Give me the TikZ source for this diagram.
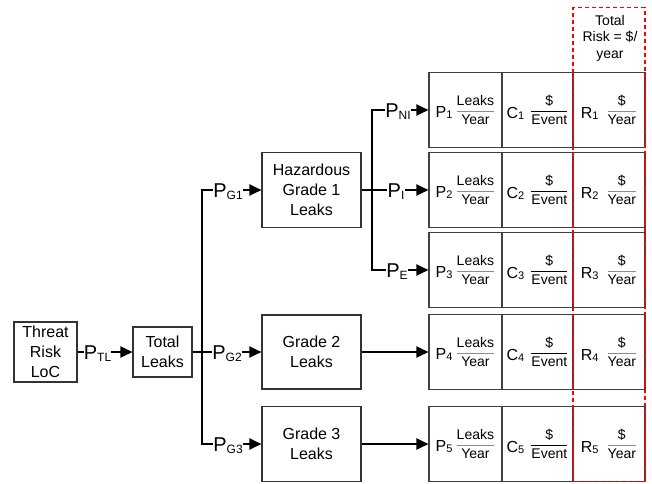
\documentclass[tikz,border=0pt]{standalone}
\usepackage{fontspec}
\setmainfont{Liberation Sans}
\usepackage{amsmath}
\usetikzlibrary{arrows.meta}
\newcommand\lsub[1]{\raisebox{-2.5pt}{\fontsize{12}{12}\selectfont #1}}
\newcommand\csub[1]{\raisebox{-1pt}{\fontsize{11}{11}\selectfont #1}}
\newcommand\frc[3]{\raisebox{3pt}{\fontsize{14}{16}\selectfont\color{#1}$\genfrac{}{}{1pt}{0}{\textcolor{black}{\text{#2}}}{\textcolor{black}{\text{#3}}}$}}
\begin{document}
\begin{tikzpicture}[x=1pt,y=-1pt,
  box/.style={draw=black!80, line width=1.1pt, align=center, inner sep=0pt, font=\fontsize{16}{20}\selectfont},
  cell/.style={draw=black!75, line width=1.1pt, inner sep=0pt, minimum height=75pt, font=\fontsize{16}{19}\selectfont},
  lab/.style={inner sep=0pt, text height=14.3pt, text depth=0pt, font=\fontsize{20}{20}\selectfont},
  conn/.style={line width=2pt},
  arr/.style={conn, -{Triangle[length=12pt,width=11pt]}},
  riskframe/.style={draw=red, line width=1.8pt, dash pattern=on 4pt off 3pt, inner sep=0pt}
]
\useasboundingbox (0,0) rectangle (652,483);

% left part
\node[box, minimum width=63pt, minimum height=60pt] (threat) at (45.5,352) {Threat\\Risk\\LoC};
\node[box, minimum width=59pt, minimum height=50pt] (total) at (162.5,352) {Total\\Leaks};
\node[lab] (lTL) at (97.5,352) {P\lsub{TL}};
\draw[conn] (threat) -- (lTL);
\draw[arr] (lTL) -- (total);

% grade boxes
\node[box, minimum width=99pt, minimum height=75pt] (haz) at (311.5,190) {Hazardous\\Grade 1\\Leaks};
\node[box, minimum width=99pt, minimum height=74pt] (g2) at (311.5,352) {Grade 2\\Leaks};
\node[box, minimum width=99pt, minimum height=75pt] (g3) at (311.5,444) {Grade 3\\Leaks};

\coordinate (ja) at (202,352);
\node[lab] (lG1) at (228,190) {P\lsub{G1}};
\node[lab] (lG2) at (227,352) {P\lsub{G2}};
\node[lab] (lG3) at (228,444) {P\lsub{G3}};
\draw[conn] (total) -- (ja);
\draw[conn] (ja) |- (lG1);
\draw[conn] (ja) -- (lG2);
\draw[conn] (ja) |- (lG3);
\draw[arr] (lG1) -- (haz);
\draw[arr] (lG2) -- (g2);
\draw[arr] (lG3) -- (g3);

% result rows
\foreach \i/\y in {1/110, 2/190, 3/270, 4/352, 5/444} {
  \node[cell, minimum width=73pt] (p\i) at (465.5,\y) {P\csub{\i}\hspace{3pt}\frc{black!45}{Leaks}{Year}};
  \node[cell, minimum width=71pt] (c\i) at (537.5,\y) {C\csub{\i}\hspace{6pt}\frc{black}{\$}{Event}};
  \node[cell, minimum width=72pt] (r\i) at (609,\y) {R\csub{\i}\hspace{8pt}\frc{black!45}{\$}{Year}};
}

% hazardous branches
\coordinate (jb) at (372,190);
\node[lab] (lNI) at (398,110) {P\lsub{NI}};
\node[lab] (lI) at (396,190) {P\lsub{I}};
\node[lab] (lE) at (397,270) {P\lsub{E}};
\draw[conn] (haz) -- (jb);
\draw[conn] (jb) |- (lNI);
\draw[conn] (jb) -- (lI);
\draw[conn] (jb) |- (lE);
\draw[arr] (lNI) -- (p1);
\draw[arr] (lI) -- (p2);
\draw[arr] (lE) -- (p3);
\draw[arr] (g2) -- (p4);
\draw[arr] (g3) -- (p5);

% total risk frame
\node[riskframe, minimum width=72pt, minimum height=474pt] (frame) at (609,244.5) {};
\node[align=center, anchor=center, inner sep=0pt, font=\fontsize{14}{16.5}\selectfont] (trtitle) at (610,38) {Total\\Risk = \$/\\year};
\end{tikzpicture}
\end{document}
